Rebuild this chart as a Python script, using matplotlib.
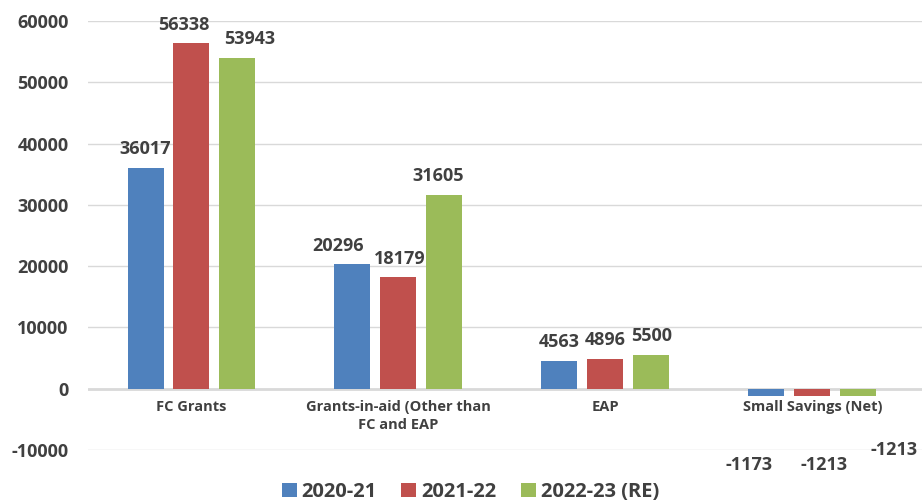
import numpy as np
import matplotlib
matplotlib.use("Agg")
import matplotlib.pyplot as plt

plt.rcParams['font.family'] = ['Open Sans', 'DejaVu Sans']
plt.rcParams['font.weight'] = 'bold'

categories = ['FC Grants', 'Grants-in-aid (Other than\nFC and EAP', 'EAP', 'Small Savings (Net)']
series_names = ['2020-21', '2021-22', '2022-23 (RE)']
vals_2020 = [36017, 20296, 4563, -1173]
vals_2021 = [56338, 18179, 4896, -1213]
vals_2022 = [53943, 31605, 5500, -1213]
yticks = [-10000, 0, 10000, 20000, 30000, 40000, 50000, 60000]

colors = ['#4F81BD', '#C0504D', '#9BBB59']
text_col = '#404040'

# small label nudges (pixels) like the original, which shifted some labels sideways
label_dx = [[0, -8, 12], [-14, 1, -6], [0, 0, 0]]
# the negative labels sit below the axis in the original
neg_label_pos = [(2.696, -12500), (3.058, -12500), (3.396, -10000)]

fig = plt.figure(figsize=(9.22, 5.01), dpi=100)
ax = fig.add_axes([88 / 922, 1 - 450 / 501, 1 - 88 / 922, (450 - 21) / 501])

x = np.arange(len(categories))
width = 0.174
step = 0.222
series = [vals_2020, vals_2021, vals_2022]
for i, vals in enumerate(series):
    xs = x + (i - 1) * step
    ax.bar(xs, vals, width, color=colors[i], label=series_names[i], zorder=3)
    for j, v in enumerate(vals):
        if v >= 0:
            ax.annotate(str(v), (xs[j], v), xytext=(label_dx[j][i] * 0.72, 7),
                        textcoords='offset points', ha='center', va='bottom',
                        fontsize=13, fontweight='bold', color=text_col)
        else:
            px, py = neg_label_pos[i]
            ax.text(px, py, str(v), ha='center', va='center',
                    fontsize=13, fontweight='bold', color=text_col)

ax.set_xlim(-0.5, 3.53)
ax.set_ylim(-10000, 60000)
ax.set_yticks(yticks)
ax.set_yticklabels([str(t) for t in yticks])
ax.grid(axis='y', color='#D9D9D9', linewidth=1, zorder=0)
ax.axhline(0, color='#D9D9D9', linewidth=2, zorder=2)

ax.spines['bottom'].set_position(('data', 0))
for s in ['top', 'right', 'left', 'bottom']:
    ax.spines[s].set_visible(False)
ax.set_xticks(x)
ax.set_xticklabels(categories, fontsize=10.5, fontweight='bold', color=text_col,
                   linespacing=1.35)
ax.tick_params(axis='x', length=0, pad=8)
ax.tick_params(axis='y', length=0, pad=14, labelsize=13, labelcolor=text_col)
for t in ax.get_yticklabels():
    t.set_fontweight('bold')

leg = fig.legend(loc='center', bbox_to_anchor=(0.51, 0.018), ncol=3, frameon=False,
                 handlelength=0.75, handleheight=0.75, handletextpad=0.25,
                 columnspacing=1.2, prop={'size': 14.5, 'weight': 'bold'})
for t in leg.get_texts():
    t.set_color(text_col)

fig.savefig('out.png', dpi=100)
